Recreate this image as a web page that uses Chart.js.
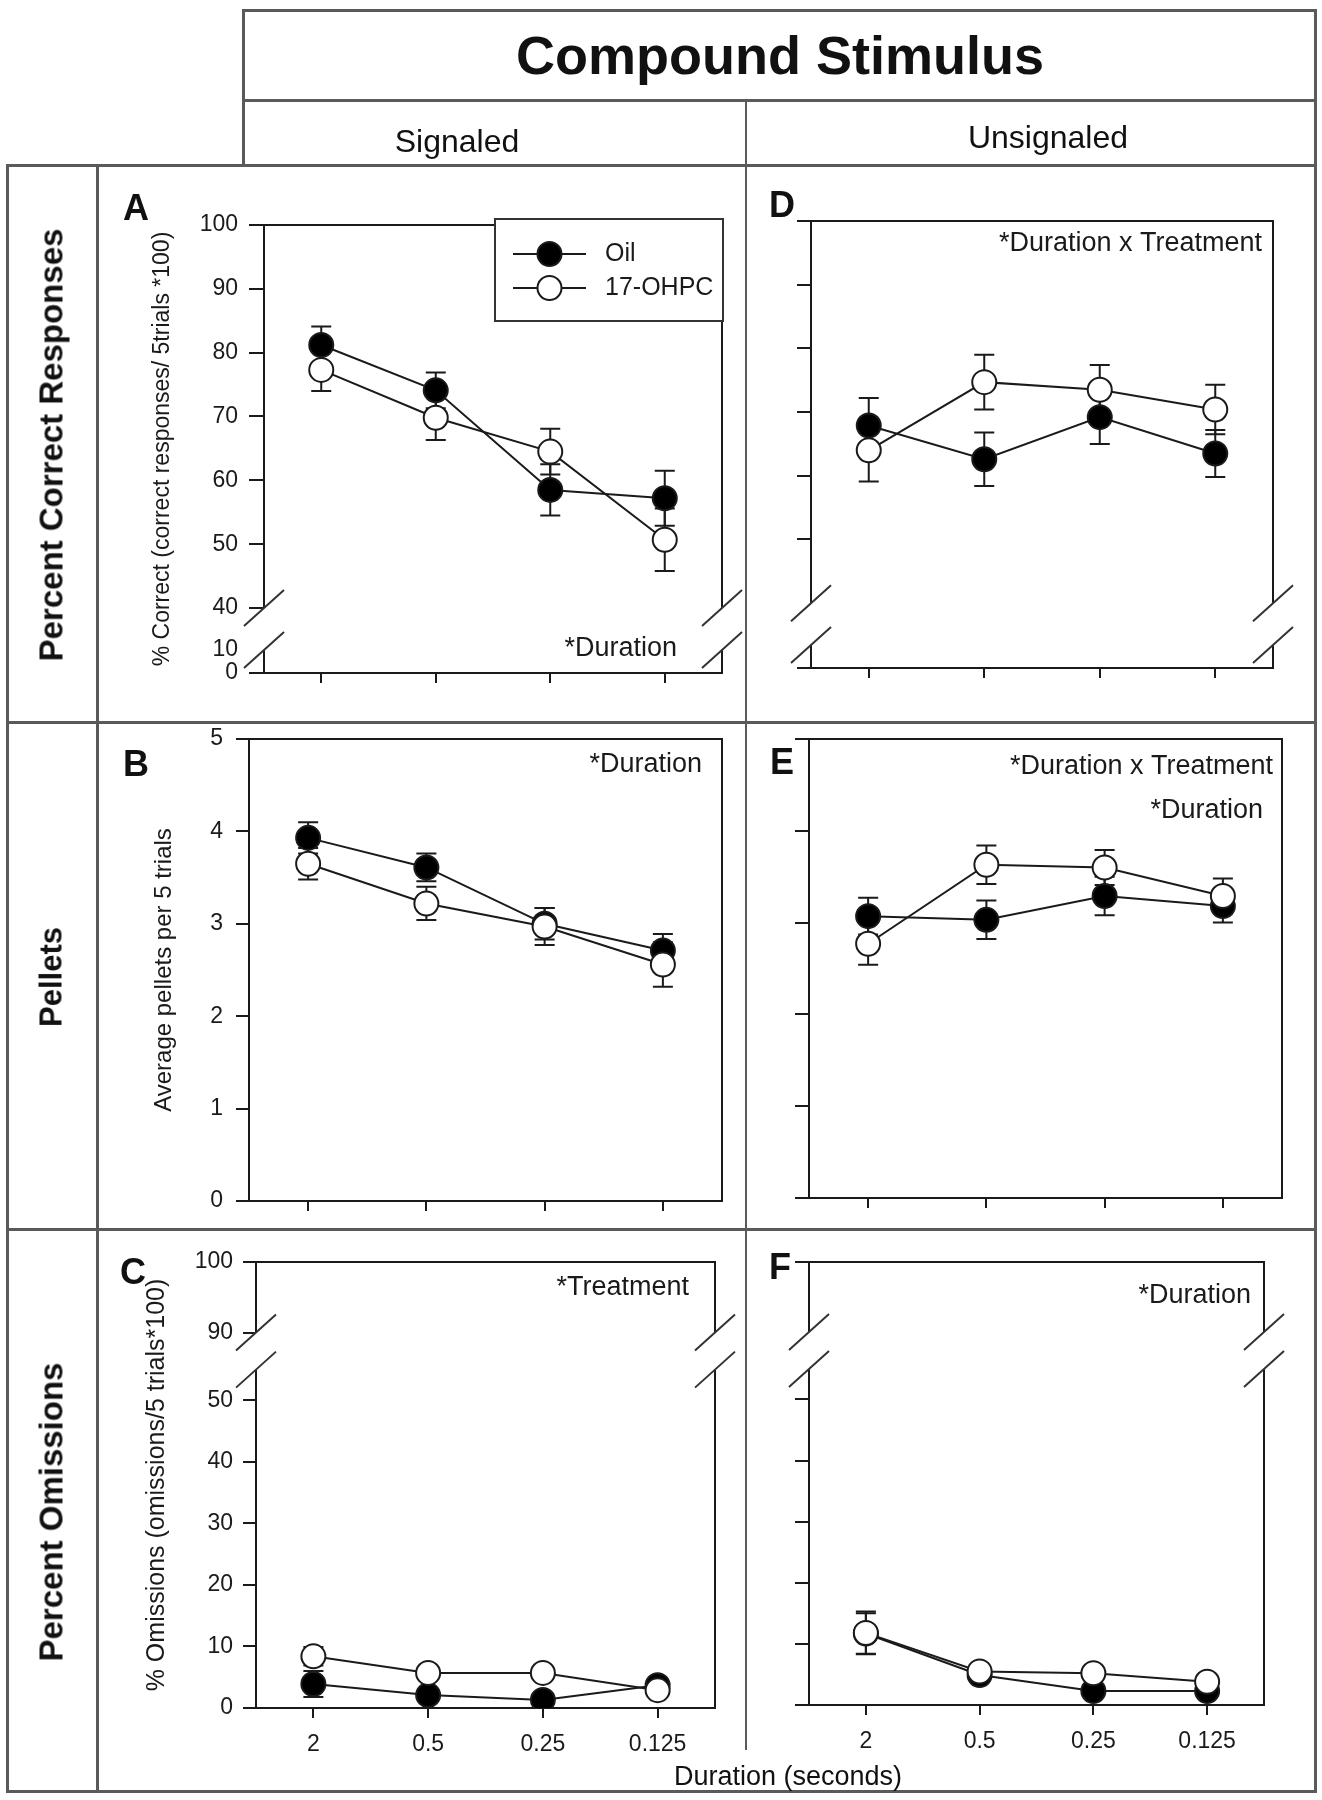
<!DOCTYPE html>
<html>
<head>
<meta charset="utf-8">
<script src="https://cdn.jsdelivr.net/npm/chart.js@4.4.1/dist/chart.umd.min.js"></script>
<style>
  html, body { margin: 0; padding: 0; background: #fff; }
  #page { position: relative; width: 1322px; height: 1800px; overflow: hidden;
          font-family: "Liberation Sans", Arial, sans-serif; color: #111; }
  #page canvas { position: absolute; left: 0; top: 0; }
  .ln { position: absolute; background: #5a5a5a; }
  .tx { position: absolute; white-space: nowrap; line-height: 1; transform: translate(-50%, -50%); }
  .rot { transform: translate(-50%, -50%) rotate(-90deg); }
</style>
</head>
<body>
<div id="page"></div>
<script>
// ---- data ----
const durations = ['2', '0.5', '0.25', '0.125'];
const seriesNames = ['Oil', '17-OHPC'];

// A: signaled, % correct
const oilA = [81.2, 74.1, 58.5, 57.2];
const oilAErr = [2.9, 2.8, 4.0, 4.3];
const ohpcA = [77.3, 69.8, 64.5, 50.7];
const ohpcAErr = [3.3, 3.5, 3.6, 4.9];

// D: unsignaled, % correct
const oilD = [67.9, 62.6, 69.2, 63.5];
const oilDErr = [4.3, 4.2, 4.2, 3.7];
const ohpcD = [64.0, 74.7, 73.5, 70.4];
const ohpcDErr = [4.9, 4.3, 3.9, 3.9];

// B: signaled, pellets
const oilB = [3.93, 3.61, 3.00, 2.71];
const oilBErr = [0.17, 0.15, 0.17, 0.18];
const ohpcB = [3.65, 3.22, 2.97, 2.56];
const ohpcBErr = [0.17, 0.18, 0.20, 0.24];

// E: unsignaled, pellets
const oilE = [3.07, 3.03, 3.29, 3.18];
const oilEErr = [0.20, 0.21, 0.21, 0.18];
const ohpcE = [2.77, 3.63, 3.60, 3.29];
const ohpcEErr = [0.23, 0.21, 0.19, 0.19];

// C: signaled, % omissions
const oilC = [3.9, 2.1, 1.3, 3.7];
const oilCErr = [2.1, 0.9, 0.8, 0.8];
const ohpcC = [8.4, 5.7, 5.7, 2.9];
const ohpcCErr = [1.5, 0.9, 0.9, 0.8];

// F: unsignaled, % omissions
const oilF = [11.7, 4.9, 2.3, 2.3];
const oilFErr = [3.3, 0.9, 0.8, 0.8];
const ohpcF = [11.8, 5.5, 5.2, 3.8];
const ohpcFErr = [3.5, 0.8, 0.8, 0.8];

// y ticks
const ticksCorrect = [0, 10, 40, 50, 60, 70, 80, 90, 100];
const ticksCorrectPlain = [0, 50, 60, 70, 80, 90, 100];
const ticksPellets = [0, 1, 2, 3, 4, 5];
const ticksOmit = [0, 10, 20, 30, 40, 50, 90, 100];
const ticksOmitPlain = [0, 10, 20, 30, 40, 50, 100];

// axis breaks: [value below break, value above break]
const breakCorrect = [10, 40];
const breakOmit = [55, 90];

// labels
const headerText = 'Compound Stimulus';
const columnTitles = ['Signaled', 'Unsignaled'];
const rowTitles = ['Percent Correct Responses', 'Pellets', 'Percent Omissions'];
const yTitleCorrect = '% Correct (correct responses/ 5trials *100)';
const yTitlePellets = 'Average pellets per 5 trials';
const yTitleOmit = '% Omissions (omissions/5 trials*100)';
const xTitle = 'Duration (seconds)';
const notesA = ['*Duration'];
const notesB = ['*Duration'];
const notesC = ['*Treatment'];
const notesD = ['*Duration x Treatment'];
const notesE = ['*Duration x Treatment', '*Duration'];
const notesF = ['*Duration'];

// ---- layout ----
const INK = '#1a1a1a';
const FONT = '"Liberation Sans", Arial, sans-serif';
Chart.defaults.font.family = FONT;
Chart.defaults.color = INK;

// value -> fraction of axis height, piecewise (broken axes)
const knotsCorrect = [[0, 0], [10, 0.0513], [40, 0.1451], [100, 1]];
const knotsOmit = [[0, 0], [55, 0.7587], [90, 0.8418], [100, 1]];
const KNOTS = {};

function toDec(k, v) {
  for (let i = 1; i < k.length; i++) {
    if (v <= k[i][0] || i === k.length - 1) {
      const [v0, d0] = k[i - 1], [v1, d1] = k[i];
      return d0 + (v - v0) / (v1 - v0) * (d1 - d0);
    }
  }
}
function fromDec(k, d) {
  for (let i = 1; i < k.length; i++) {
    if (d <= k[i][1] || i === k.length - 1) {
      const [v0, d0] = k[i - 1], [v1, d1] = k[i];
      return v0 + (d - d0) / (d1 - d0) * (v1 - v0);
    }
  }
}

class BrokenScale extends Chart.LinearScale {
  getPixelForValue(value) {
    if (value === null || value === undefined) return NaN;
    return this.getPixelForDecimal(toDec(KNOTS[this.chart.canvas.id], value));
  }
  getValueForPixel(pixel) {
    return fromDec(KNOTS[this.chart.canvas.id], this.getDecimalForPixel(pixel));
  }
}
BrokenScale.id = 'broken';
BrokenScale.defaults = Chart.LinearScale.defaults;
Chart.register(BrokenScale);

const errorBars = {
  id: 'errorBars',
  beforeDatasetsDraw(chart) {
    const { ctx, scales: { x, y } } = chart;
    ctx.save();
    ctx.strokeStyle = INK;
    ctx.lineWidth = 2;
    chart.data.datasets.forEach(ds => {
      ds.data.forEach((v, i) => {
        const e = ds.errors[i];
        const px = x.getPixelForValue(i);
        const top = y.getPixelForValue(v + e);
        const bot = y.getPixelForValue(v - e);
        ctx.beginPath();
        ctx.moveTo(px, top); ctx.lineTo(px, bot);
        ctx.moveTo(px - 10, top); ctx.lineTo(px + 10, top);
        ctx.moveTo(px - 10, bot); ctx.lineTo(px + 10, bot);
        ctx.stroke();
      });
    });
    ctx.restore();
  }
};

const framePlugin = {
  id: 'frame',
  afterDraw(chart, args, opts) {
    const { ctx, chartArea: a, scales: { y } } = chart;
    ctx.save();
    ctx.strokeStyle = INK;
    ctx.lineWidth = 2;
    ctx.beginPath();
    ctx.moveTo(a.left, a.top); ctx.lineTo(a.right, a.top); ctx.lineTo(a.right, a.bottom);
    ctx.stroke();
    // axis breaks
    if (opts.breakAt) {
      const yl = y.getPixelForValue(opts.breakAt[0]);
      const yu = y.getPixelForValue(opts.breakAt[1]);
      [a.left, a.right].forEach(x0 => {
        ctx.fillStyle = '#fff';
        ctx.beginPath();
        ctx.moveTo(x0 - 20, yu + 18); ctx.lineTo(x0 + 20, yu - 18);
        ctx.lineTo(x0 + 20, yl - 18); ctx.lineTo(x0 - 20, yl + 18);
        ctx.closePath();
        ctx.fill();
        ctx.strokeStyle = '#333';
        ctx.lineWidth = 2;
        ctx.beginPath();
        ctx.moveTo(x0 - 20, yu + 18); ctx.lineTo(x0 + 20, yu - 18);
        ctx.moveTo(x0 - 20, yl + 18); ctx.lineTo(x0 + 20, yl - 18);
        ctx.stroke();
      });
    }
    // legend box
    if (opts.legend) {
      const L = opts.legend;
      ctx.fillStyle = '#fff';
      ctx.fillRect(L.x, L.y, L.w, L.h);
      ctx.strokeStyle = '#333';
      ctx.lineWidth = 2;
      ctx.strokeRect(L.x, L.y, L.w, L.h);
      L.items.forEach((it, i) => {
        const cy = L.rowY[i];
        ctx.strokeStyle = INK;
        ctx.lineWidth = 2;
        ctx.beginPath();
        ctx.moveTo(L.lineX0, cy); ctx.lineTo(L.lineX1, cy);
        ctx.stroke();
        ctx.beginPath();
        ctx.arc((L.lineX0 + L.lineX1) / 2, cy, 12, 0, Math.PI * 2);
        ctx.fillStyle = it.fill;
        ctx.fill();
        ctx.stroke();
        ctx.fillStyle = INK;
        ctx.font = '25px ' + FONT;
        ctx.textAlign = 'left';
        ctx.textBaseline = 'middle';
        ctx.fillText(it.text, L.textX, cy);
      });
    }
    // annotations
    (opts.notes || []).forEach(n => {
      ctx.fillStyle = INK;
      ctx.font = '27px ' + FONT;
      ctx.textAlign = 'right';
      ctx.textBaseline = 'middle';
      ctx.fillText(n.text, n.x, n.y);
    });
    ctx.restore();
  }
};

const page = document.getElementById('page');

function makePanel(p) {
  const canvas = document.createElement('canvas');
  canvas.id = 'panel' + p.id;
  canvas.width = 1322;
  canvas.height = 1800;
  page.appendChild(canvas);
  if (p.knots) KNOTS[canvas.id] = p.knots;

  const padLeft = p.title ? p.titleX - p.titleSize * 0.6 : p.L - 30;
  const yW = p.L - padLeft;

  const yScale = {
    type: p.knots ? 'broken' : 'linear',
    min: p.yMin,
    max: p.yMax,
    afterBuildTicks: s => { s.ticks = p.yTicks.map(v => ({ value: v })); },
    afterFit: s => { s.width = yW; },
    ticks: {
      display: p.yLabels,
      autoSkip: false,
      padding: p.tickPad,
      font: { size: 23 },
      color: INK,
      callback: v => String(v)
    },
    grid: { drawOnChartArea: false, drawTicks: true, tickLength: p.tickLen, color: INK, lineWidth: 2 },
    border: { display: true, color: INK, width: 2 },
    title: { display: !!p.title, text: p.title || '', font: { size: p.titleSize || 20 }, padding: 0, color: INK }
  };

  new Chart(canvas, {
    type: 'line',
    data: {
      labels: durations,
      datasets: [
        {
          label: seriesNames[1], data: p.ohpc, errors: p.ohpcErr, order: 1,
          borderColor: INK, borderWidth: 2, tension: 0, fill: false,
          pointRadius: 12, pointBorderWidth: 2, pointBorderColor: INK, pointBackgroundColor: '#fff'
        },
        {
          label: seriesNames[0], data: p.oil, errors: p.oilErr, order: 2,
          borderColor: INK, borderWidth: 2, tension: 0, fill: false,
          pointRadius: 12, pointBorderWidth: 2, pointBorderColor: INK, pointBackgroundColor: '#000'
        }
      ]
    },
    options: {
      responsive: false,
      animation: false,
      devicePixelRatio: 1,
      events: [],
      layout: { padding: { left: padLeft, right: 1322 - p.R, top: p.T, bottom: 1800 - p.B - 60 } },
      plugins: {
        legend: { display: false },
        tooltip: { enabled: false },
        frame: { breakAt: p.breakAt, legend: p.legend, notes: p.notes }
      },
      scales: {
        x: {
          type: 'category',
          offset: true,
          afterFit: s => { s.height = 60; },
          ticks: { display: p.xLabels, font: { size: 23 }, padding: 13, color: INK, maxRotation: 0, autoSkip: false },
          grid: { offset: false, drawOnChartArea: false, drawTicks: true, tickLength: 10, color: INK, lineWidth: 2 },
          border: { display: true, color: INK, width: 2 }
        },
        y: yScale
      }
    },
    plugins: [errorBars, framePlugin]
  });
}

const notesAt = (texts, xs, ys) => texts.map((t, i) => ({ text: t, x: xs[i], y: ys[i] }));

makePanel({
  id: 'A', oil: oilA, oilErr: oilAErr, ohpc: ohpcA, ohpcErr: ohpcAErr,
  L: 264, R: 722, T: 225, B: 673, yMin: 0, yMax: 100,
  knots: knotsCorrect, breakAt: breakCorrect, yTicks: ticksCorrect, yLabels: true, xLabels: false,
  tickLen: 15, tickPad: 11, title: yTitleCorrect, titleX: 163, titleSize: 23,
  notes: notesAt(notesA, [677], [649]),
  legend: {
    x: 495, y: 219, w: 228, h: 102, lineX0: 513, lineX1: 586, textX: 605, rowY: [254, 288],
    items: [{ text: seriesNames[0], fill: '#000' }, { text: seriesNames[1], fill: '#fff' }]
  }
});
makePanel({
  id: 'D', oil: oilD, oilErr: oilDErr, ohpc: ohpcD, ohpcErr: ohpcDErr,
  L: 811, R: 1273, T: 221, B: 668, yMin: 0, yMax: 100,
  knots: knotsCorrect, breakAt: breakCorrect, yTicks: ticksCorrectPlain, yLabels: false, xLabels: false,
  tickLen: 14, tickPad: 8,
  notes: notesAt(notesD, [1262], [244])
});
makePanel({
  id: 'B', oil: oilB, oilErr: oilBErr, ohpc: ohpcB, ohpcErr: ohpcBErr,
  L: 249, R: 722, T: 739, B: 1201, yMin: 0, yMax: 5,
  yTicks: ticksPellets, yLabels: true, xLabels: false,
  tickLen: 13, tickPad: 13, title: yTitlePellets, titleX: 164, titleSize: 24,
  notes: notesAt(notesB, [702], [765])
});
makePanel({
  id: 'E', oil: oilE, oilErr: oilEErr, ohpc: ohpcE, ohpcErr: ohpcEErr,
  L: 809, R: 1282, T: 739, B: 1198, yMin: 0, yMax: 5,
  yTicks: ticksPellets, yLabels: false, xLabels: false,
  tickLen: 14, tickPad: 8,
  notes: notesAt(notesE, [1273, 1263], [767, 811])
});
makePanel({
  id: 'C', oil: oilC, oilErr: oilCErr, ohpc: ohpcC, ohpcErr: ohpcCErr,
  L: 256, R: 715, T: 1262, B: 1708, yMin: 0, yMax: 100,
  knots: knotsOmit, breakAt: breakOmit, yTicks: ticksOmit, yLabels: true, xLabels: true,
  tickLen: 13, tickPad: 10, title: yTitleOmit, titleX: 157, titleSize: 25,
  notes: notesAt(notesC, [689], [1288])
});
makePanel({
  id: 'F', oil: oilF, oilErr: oilFErr, ohpc: ohpcF, ohpcErr: ohpcFErr,
  L: 809, R: 1264, T: 1262, B: 1705, yMin: 0, yMax: 100,
  knots: knotsOmit, breakAt: breakOmit, yTicks: ticksOmitPlain, yLabels: false, xLabels: true,
  tickLen: 14, tickPad: 8,
  notes: notesAt(notesF, [1251], [1296])
});

// ---- figure frame and text ----
function line(x, y, w, h) {
  const d = document.createElement('div');
  d.className = 'ln';
  Object.assign(d.style, { left: x + 'px', top: y + 'px', width: w + 'px', height: h + 'px' });
  page.appendChild(d);
}
function text(str, cx, cy, size, bold, rotate) {
  const d = document.createElement('div');
  d.className = 'tx' + (rotate ? ' rot' : '');
  d.textContent = str;
  Object.assign(d.style, { left: cx + 'px', top: cy + 'px', fontSize: size + 'px', fontWeight: bold ? 'bold' : 'normal' });
  page.appendChild(d);
}

// header box
line(242, 9, 1075, 3);
line(242, 99, 1075, 3);
line(242, 9, 3, 157);
line(745, 100, 2, 65);
// main grid
line(6, 164, 1311, 3);
line(6, 1790, 1311, 3);
line(6, 164, 3, 1629);
line(1314, 9, 3, 1784);
line(96, 164, 3, 1629);
line(745, 164, 2, 1586);
line(6, 721, 1311, 3);
line(6, 1228, 1311, 3);

text(headerText, 780, 55, 54, true);
text(columnTitles[0], 457, 141, 32);
text(columnTitles[1], 1048, 137, 32);
text(rowTitles[0], 51, 445, 33, true, true);
text(rowTitles[1], 51, 977, 31, true, true);
text(rowTitles[2], 51, 1512, 33, true, true);
text('A', 136, 208, 36, true);
text('D', 782, 205, 36, true);
text('B', 136, 764, 36, true);
text('E', 782, 762, 36, true);
text('C', 133, 1272, 36, true);
text('F', 780, 1267, 36, true);
text(xTitle, 788, 1776, 27);
</script>
</body>
</html>
